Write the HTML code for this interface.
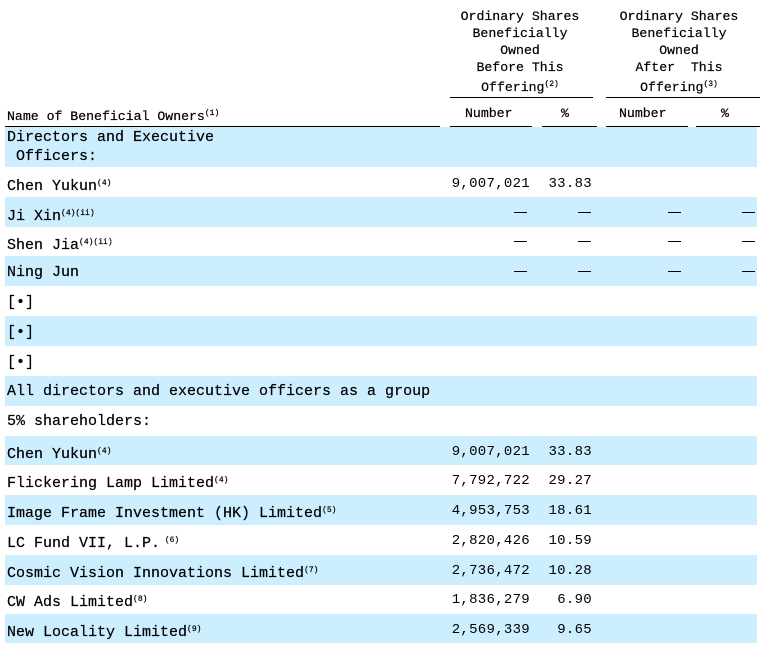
<!DOCTYPE html>
<html><head><meta charset="utf-8"><style>
body{margin:0;width:763px;height:649px;background:#fff;position:relative;overflow:hidden;font-family:"Liberation Mono","Noto Sans CJK SC",monospace;font-size:15px;color:#000}
.b{position:absolute;left:5px;width:752px;background:#cceeff}
.t{position:absolute;white-space:pre;line-height:16px;-webkit-text-stroke:0.2px #000}
.h{font-size:13.2px}
.r{position:absolute;white-space:pre;text-align:right;line-height:16px;font-size:14px;letter-spacing:0.3px}
.c{position:absolute;text-align:center;line-height:17px;white-space:pre;font-size:13.2px;-webkit-text-stroke:0.2px #000}
.l{position:absolute;height:1px;background:#000}
sup{font-size:8px;vertical-align:5px}
</style></head><body>
<div class="c" style="left:448px;width:144px;top:8px">Ordinary Shares
Beneficially
Owned
Before This
Offering<sup>(2)</sup></div>
<div class="c" style="left:606px;width:146px;top:8px">Ordinary Shares
Beneficially
Owned
After  This
Offering<sup>(3)</sup></div>
<div class="l" style="left:450px;width:143px;top:97px"></div>
<div class="l" style="left:606px;width:154px;top:97px"></div>
<div class="t h" style="left:7px;top:106px">Name of Beneficial Owners<sup>(1)</sup></div>
<div class="t h" style="left:465px;top:106px">Number</div>
<div class="t h" style="left:561px;top:106px">%</div>
<div class="t h" style="left:619px;top:106px">Number</div>
<div class="t h" style="left:721px;top:106px">%</div>
<div class="l" style="left:5px;width:435px;top:126px"></div>
<div class="l" style="left:450px;width:82px;top:126px"></div>
<div class="l" style="left:542px;width:55px;top:126px"></div>
<div class="l" style="left:606px;width:82px;top:126px"></div>
<div class="l" style="left:696px;width:64px;top:126px"></div>

<div class="b" style="top:127px;height:40px"></div>
<div class="b" style="top:197px;height:30px"></div>
<div class="b" style="top:256px;height:30px"></div>
<div class="b" style="top:316px;height:30px"></div>
<div class="b" style="top:376px;height:30px"></div>
<div class="b" style="top:436px;height:29px"></div>
<div class="b" style="top:495px;height:30px"></div>
<div class="b" style="top:555px;height:30px"></div>
<div class="b" style="top:614px;height:29px"></div>

<div class="t" style="left:7px;top:128px;line-height:19px">Directors and Executive
 Officers:</div>
<div class="t" style="left:7px;top:176px">Chen Yukun<sup>(4)</sup></div>
<div class="t" style="left:7px;top:206px">Ji Xin<sup>(4)(ii)</sup></div>
<div class="t" style="left:7px;top:235px">Shen Jia<sup>(4)(ii)</sup></div>
<div class="t" style="left:7px;top:265px">Ning Jun</div>
<div class="t" style="left:7px;top:295px">[•]</div>
<div class="t" style="left:7px;top:325px">[•]</div>
<div class="t" style="left:7px;top:355px">[•]</div>
<div class="t" style="left:7px;top:384px">All directors and executive officers as a group</div>
<div class="t" style="left:7px;top:414px">5% shareholders:</div>
<div class="t" style="left:7px;top:444px">Chen Yukun<sup>(4)</sup></div>
<div class="t" style="left:7px;top:473px">Flickering Lamp Limited<sup>(4)</sup></div>
<div class="t" style="left:7px;top:503px">Image Frame Investment (HK) Limited<sup>(5)</sup></div>
<div class="t" style="left:7px;top:533px">LC Fund VII, L.P.<sup> (6)</sup></div>
<div class="t" style="left:7px;top:563px">Cosmic Vision Innovations Limited<sup>(7)</sup></div>
<div class="t" style="left:7px;top:592px">CW Ads Limited<sup>(8)</sup></div>
<div class="t" style="left:7px;top:622px">New Locality Limited<sup>(9)</sup></div>

<div class="r" style="left:430px;width:100px;top:176px">9,007,021</div>
<div class="r" style="left:530px;width:62px;top:176px">33.83</div>
<div class="r" style="left:430px;width:100px;top:444px">9,007,021</div><div class="r" style="left:530px;width:62px;top:444px">33.83</div>
<div class="r" style="left:430px;width:100px;top:473px">7,792,722</div><div class="r" style="left:530px;width:62px;top:473px">29.27</div>
<div class="r" style="left:430px;width:100px;top:503px">4,953,753</div><div class="r" style="left:530px;width:62px;top:503px">18.61</div>
<div class="r" style="left:430px;width:100px;top:533px">2,820,426</div><div class="r" style="left:530px;width:62px;top:533px">10.59</div>
<div class="r" style="left:430px;width:100px;top:563px">2,736,472</div><div class="r" style="left:530px;width:62px;top:563px">10.28</div>
<div class="r" style="left:430px;width:100px;top:592px">1,836,279</div><div class="r" style="left:530px;width:62px;top:592px">6.90</div>
<div class="r" style="left:430px;width:100px;top:622px">2,569,339</div><div class="r" style="left:530px;width:62px;top:622px">9.65</div>

<div class="l" style="left:514px;width:13px;top:212px"></div><div class="l" style="left:578px;width:13px;top:212px"></div><div class="l" style="left:668px;width:13px;top:212px"></div><div class="l" style="left:742px;width:13px;top:212px"></div>
<div class="l" style="left:514px;width:13px;top:241px"></div><div class="l" style="left:578px;width:13px;top:241px"></div><div class="l" style="left:668px;width:13px;top:241px"></div><div class="l" style="left:742px;width:13px;top:241px"></div>
<div class="l" style="left:514px;width:13px;top:271px"></div><div class="l" style="left:578px;width:13px;top:271px"></div><div class="l" style="left:668px;width:13px;top:271px"></div><div class="l" style="left:742px;width:13px;top:271px"></div>
</body></html>
